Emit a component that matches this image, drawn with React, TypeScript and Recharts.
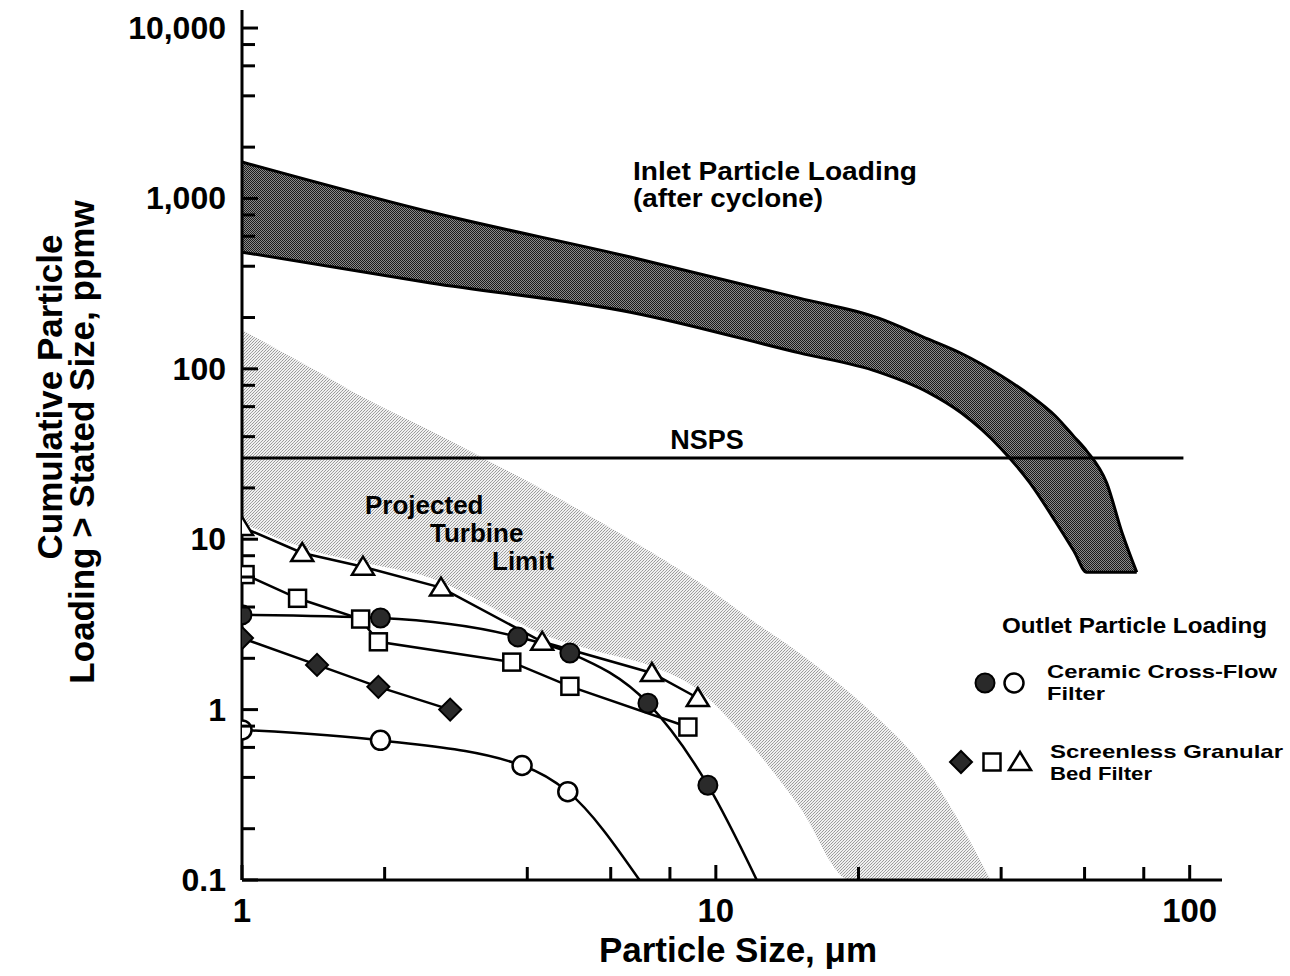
import React from "react";
import { ComposedChart, Area, Line, XAxis, YAxis } from "recharts";

const W = 1290;
const H = 976;
const FONT = "'Liberation Sans', Arial, Helvetica, sans-serif";
const TICK_GAP = 16;

// axis ticks, log scale; labels only on the decades
const sizeTicks = [1, 2, 4, 6, 8, 10, 20, 40, 60, 80, 100];
const sizeMajor = [1, 10, 100];
const sizeMajorLabels = ["1", "10", "100"];
const loadTicks = [
  0.1, 0.2, 0.4, 0.6, 0.8, 1, 2, 4, 6, 8, 10, 20, 40, 60, 80,
  100, 200, 400, 600, 800, 1000, 2000, 4000, 6000, 8000, 10000,
];
const loadMajor = [0.1, 1, 10, 100, 1000, 10000];
const loadMajorLabels = ["0.1", "1", "10", "100", "1,000", "10,000"];

// inlet particle loading band (after cyclone), ppmw
const inletSize = [1, 2.5, 6.6, 15, 22, 28, 33, 40, 46, 52, 57, 60.6, 66.8, 72, 77.3];
const inletHigh = [1636, 832, 453, 260, 199, 150, 123, 91, 70, 53, 40, 33, 21.4, 10.9, 6.4];
const inletLow = [484, 319, 215, 124, 96, 73, 55, 34, 21.4, 12.8, 8.5, 6.4, 6.4, 6.4, 6.4];

// projected turbine limit band
const turbineSize = [1, 1.4, 1.8, 2.6, 3.3, 4.4, 5.6, 7.3, 9.2, 12, 15, 19.2, 21, 28.7, 38];
const turbineHigh = [169, 101, 68, 41, 29, 19, 13, 8.4, 5.6, 3.3, 2.15, 1.25, 1.0, 0.39, 0.1];
const turbineLow = [12.5, 8.6, 7.3, 5.7, 4.1, 2.7, 2.2, 1.8, 1.3, 0.6, 0.27, 0.1, 0.1, 0.1, 0.1];

// NSPS limit
const nspsSize = [1, 97];
const nspsLoad = [30, 30];

// ceramic cross-flow filter
const ccfFilledSize = [1, 1.96, 3.82, 4.92, 7.19, 9.62, 12.2];
const ccfFilledLoad = [3.6, 3.45, 2.67, 2.15, 1.09, 0.36, 0.1];
const ccfOpenSize = [1, 1.96, 3.9, 4.87, 6.9];
const ccfOpenLoad = [0.76, 0.66, 0.47, 0.33, 0.1];

// screenless granular bed filter
const sgbDiamondSize = [1, 1.44, 1.94, 2.75];
const sgbDiamondLoad = [2.63, 1.83, 1.36, 1.0];
const sgbSquareSize = [1.015, 1.31, 1.78, 1.94, 3.71, 4.92, 8.73];
const sgbSquareLoad = [6.2, 4.5, 3.4, 2.5, 1.9, 1.37, 0.79];
const sgbTriangleSize = [1, 1.34, 1.8, 2.63, 4.3, 7.33, 9.16];
const sgbTriangleLoad = [11.8, 8.3, 6.9, 5.2, 2.5, 1.64, 1.17];

const toBand = (xs: number[], lo: number[], hi: number[]) =>
  xs.map((x, i) => ({ x, range: [lo[i], hi[i]] }));
const toPoints = (xs: number[], ys: number[]) => xs.map((x, i) => ({ x, y: ys[i] }));

type Shape = "filledCircle" | "openCircle" | "diamond" | "square" | "triangle";

function Marker({ shape, cx, cy }: { shape: Shape; cx: number; cy: number }) {
  switch (shape) {
    case "filledCircle":
      return <circle cx={cx} cy={cy} r={9.5} fill="#2a2a2a" stroke="#000" strokeWidth={2} />;
    case "openCircle":
      return <circle cx={cx} cy={cy} r={9.5} fill="#fff" stroke="#000" strokeWidth={2.5} />;
    case "diamond":
      return (
        <polygon
          points={`${cx},${cy - 11} ${cx + 11},${cy} ${cx},${cy + 11} ${cx - 11},${cy}`}
          fill="#2a2a2a" stroke="#000" strokeWidth={2}
        />
      );
    case "square":
      return <rect x={cx - 8.5} y={cy - 8.5} width={17} height={17} fill="#fff" stroke="#000" strokeWidth={2.5} />;
    default:
      return (
        <polygon
          points={`${cx - 11},${cy + 8} ${cx + 11},${cy + 8} ${cx},${cy - 10}`}
          fill="#fff" stroke="#000" strokeWidth={2.5}
        />
      );
  }
}

const dotFor = (shape: Shape) => (p: any) => {
  // the end point on the axis has no marker
  if (p.payload.y <= 0.1) return <g key={`d-${p.index}`} />;
  return (
    <g key={`d-${p.index}`}>
      <Marker shape={shape} cx={p.cx} cy={p.cy} />
    </g>
  );
};

function LoadTick(props: any) {
  const { x, y, payload } = props;
  const i = loadMajor.indexOf(payload.value);
  const axisX = x + TICK_GAP;
  return (
    <g>
      <line x1={axisX} x2={axisX + (i >= 0 ? 16 : 13)} y1={y} y2={y} stroke="#000" strokeWidth={3} />
      {i >= 0 && (
        <text x={x} y={y + 11} textAnchor="end" fontFamily={FONT} fontWeight="bold" fontSize={32} fill="#000">
          {loadMajorLabels[i]}
        </text>
      )}
    </g>
  );
}

function SizeTick(props: any) {
  const { x, y, payload } = props;
  const i = sizeMajor.indexOf(payload.value);
  const axisY = y - TICK_GAP;
  return (
    <g>
      <line x1={x} x2={x} y1={axisY} y2={axisY - (i >= 0 ? 15 : 13)} stroke="#000" strokeWidth={3} />
      {i >= 0 && (
        <text x={x} y={axisY + 42} textAnchor="middle" fontFamily={FONT} fontWeight="bold" fontSize={33} fill="#000">
          {sizeMajorLabels[i]}
        </text>
      )}
    </g>
  );
}

const bold = { fontFamily: FONT, fontWeight: "bold" as const, fill: "#000" };
const fit = { lengthAdjust: "spacingAndGlyphs" as const };

export default function App() {
  return (
    <div style={{ position: "absolute", left: 0, top: 0, width: W, height: H, background: "#fff" }}>
      <ComposedChart width={W} height={H} margin={{ top: 10, right: 68, left: 0, bottom: 0 }}>
        <defs>
          <pattern id="inletHatch" width="2" height="2" patternUnits="userSpaceOnUse">
            <rect width="2" height="2" fill="#8a8a8a" />
            <rect x="0" y="0" width="1" height="1" fill="#1a1a1a" />
            <rect x="1" y="1" width="1" height="1" fill="#1a1a1a" />
          </pattern>
          <pattern id="turbineDots" width="3" height="3" patternUnits="userSpaceOnUse">
            <rect width="3" height="3" fill="#f0f0f0" />
            <rect x="0" y="0" width="1" height="1" fill="#9a9a9a" />
            <rect x="2" y="1" width="1" height="1" fill="#a8a8a8" />
            <rect x="1" y="2" width="1" height="1" fill="#9a9a9a" />
          </pattern>
        </defs>
        <XAxis
          dataKey="x"
          type="number"
          scale="log"
          domain={[1, 117]}
          allowDataOverflow
          ticks={sizeTicks}
          interval={0}
          tickSize={0}
          tickMargin={TICK_GAP}
          tickLine={false}
          tick={(p: any) => <SizeTick {...p} />}
          axisLine={{ stroke: "#000", strokeWidth: 3 }}
          height={96}
        />
        <YAxis
          type="number"
          scale="log"
          domain={[0.1, 12760]}
          allowDataOverflow
          ticks={loadTicks}
          interval={0}
          tickSize={0}
          tickMargin={TICK_GAP}
          tickLine={false}
          tick={(p: any) => <LoadTick {...p} />}
          axisLine={{ stroke: "#000", strokeWidth: 3 }}
          width={242}
        />
        <Area
          data={toBand(turbineSize, turbineLow, turbineHigh)}
          dataKey="range"
          type="monotone"
          stroke="none"
          fill="url(#turbineDots)"
          fillOpacity={1}
          dot={false}
          activeDot={false}
          isAnimationActive={false}
        />
        <Area
          data={toBand(inletSize, inletLow, inletHigh)}
          dataKey="range"
          type="monotone"
          stroke="#000"
          strokeWidth={3}
          fill="url(#inletHatch)"
          fillOpacity={1}
          dot={false}
          activeDot={false}
          isAnimationActive={false}
        />
        <Line data={toPoints(nspsSize, nspsLoad)} dataKey="y" type="linear" stroke="#000" strokeWidth={3} dot={false} activeDot={false} isAnimationActive={false} />
        <Line data={toPoints(ccfOpenSize, ccfOpenLoad)} dataKey="y" type="monotone" stroke="#000" strokeWidth={2.5} dot={dotFor("openCircle")} activeDot={false} isAnimationActive={false} />
        <Line data={toPoints(sgbDiamondSize, sgbDiamondLoad)} dataKey="y" type="linear" stroke="#000" strokeWidth={2.5} dot={dotFor("diamond")} activeDot={false} isAnimationActive={false} />
        <Line data={toPoints(sgbSquareSize, sgbSquareLoad)} dataKey="y" type="linear" stroke="#000" strokeWidth={2.5} dot={dotFor("square")} activeDot={false} isAnimationActive={false} />
        <Line data={toPoints(ccfFilledSize, ccfFilledLoad)} dataKey="y" type="monotone" stroke="#000" strokeWidth={2.5} dot={dotFor("filledCircle")} activeDot={false} isAnimationActive={false} />
        <Line data={toPoints(sgbTriangleSize, sgbTriangleLoad)} dataKey="y" type="linear" stroke="#000" strokeWidth={2.5} dot={dotFor("triangle")} activeDot={false} isAnimationActive={false} />
      </ComposedChart>

      <svg width={W} height={H} style={{ position: "absolute", left: 0, top: 0, pointerEvents: "none" }}>
        {/* axis titles */}
        <text {...bold} fontSize={35} textAnchor="middle" transform="translate(62,397) rotate(-90)">
          Cumulative Particle
        </text>
        <text {...bold} fontSize={35} textAnchor="middle" transform="translate(94,442) rotate(-90)">
          {"Loading > Stated Size, ppmw"}
        </text>
        <text {...bold} fontSize={35} textAnchor="middle" x={738} y={962}>
          Particle Size, μm
        </text>

        {/* annotations */}
        <text {...bold} {...fit} fontSize={25} textLength={284} x={633} y={180}>Inlet Particle Loading</text>
        <text {...bold} {...fit} fontSize={25} textLength={190} x={633} y={207}>(after cyclone)</text>
        <text {...bold} fontSize={27} textAnchor="middle" x={707} y={449}>NSPS</text>
        <text {...bold} fontSize={26} x={365} y={514}>Projected</text>
        <text {...bold} fontSize={26} x={430} y={542}>Turbine</text>
        <text {...bold} fontSize={26} x={492} y={570}>Limit</text>

        {/* legend */}
        <text {...bold} {...fit} fontSize={22} textLength={265} x={1002} y={633}>Outlet Particle Loading</text>
        <Marker shape="filledCircle" cx={985} cy={683} />
        <Marker shape="openCircle" cx={1014} cy={683} />
        <text {...bold} {...fit} fontSize={19} textLength={230} x={1047} y={678}>Ceramic Cross-Flow</text>
        <text {...bold} {...fit} fontSize={19} textLength={58} x={1047} y={700}>Filter</text>
        <Marker shape="diamond" cx={961} cy={762} />
        <Marker shape="square" cx={992} cy={762} />
        <Marker shape="triangle" cx={1020} cy={762} />
        <text {...bold} {...fit} fontSize={19} textLength={233} x={1050} y={758}>Screenless Granular</text>
        <text {...bold} {...fit} fontSize={19} textLength={102} x={1050} y={780}>Bed Filter</text>
      </svg>
    </div>
  );
}
